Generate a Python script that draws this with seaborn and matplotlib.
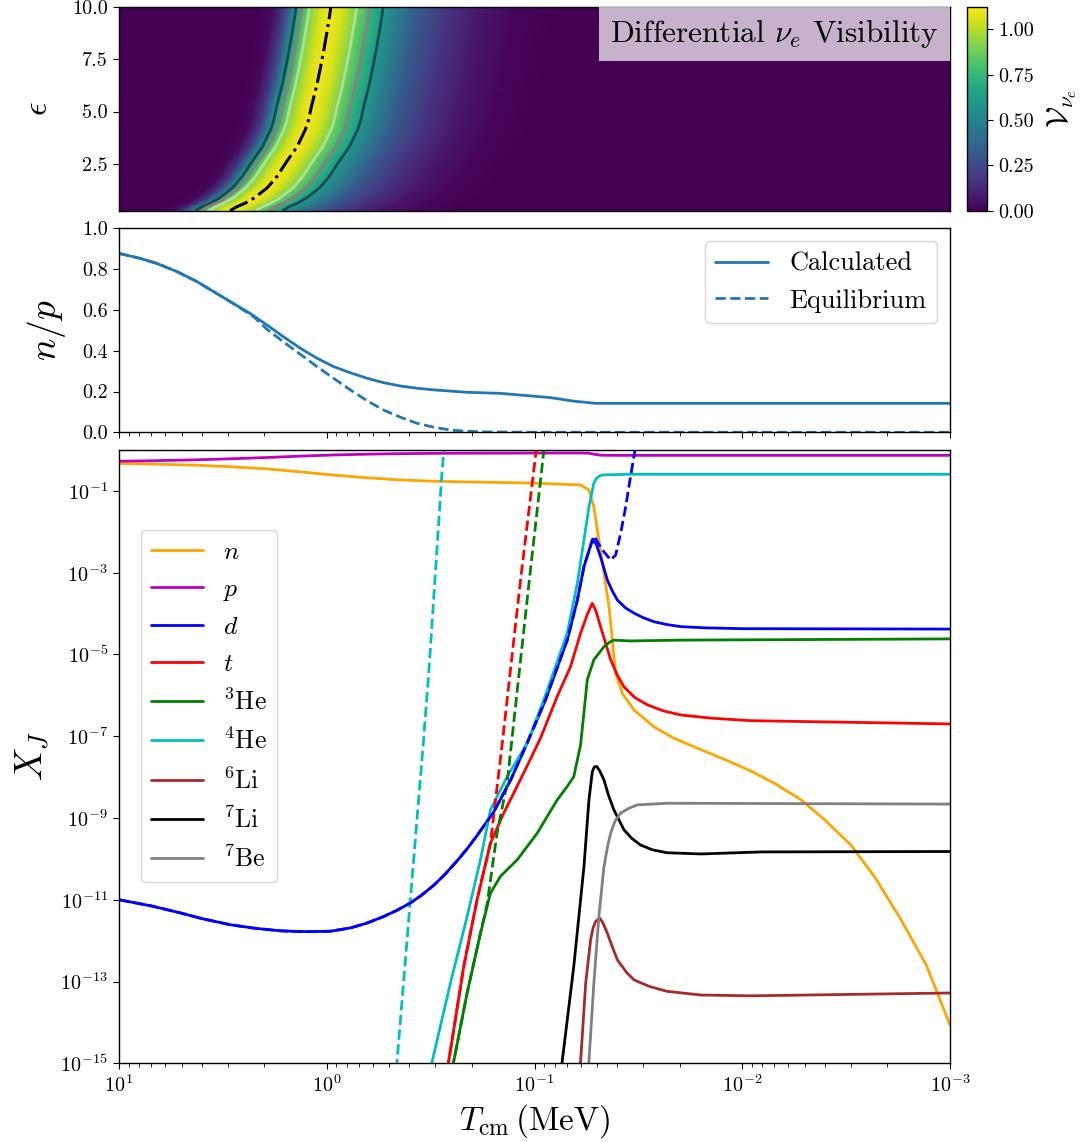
import numpy as np
import matplotlib
matplotlib.use("Agg")
import matplotlib.pyplot as plt
import seaborn as sns
from matplotlib.offsetbox import AnchoredText

# ---------------- differential nu_e visibility (top panel) ----------------
# peak of the visibility (dash-dot curve): epsilon vs temperature in MeV
vis_eps = [0.27, 0.46, 0.63, 0.86, 1.10, 1.35, 1.61, 1.89, 2.61, 3.32, 4.12, 4.52,
           5.32, 6.2, 7.14, 8.0, 8.73, 9.4, 10.0]
vis_peak_T = [2.92, 2.71, 2.47, 2.25, 2.09, 1.94, 1.84, 1.74, 1.56, 1.39, 1.27, 1.23,
              1.18, 1.12, 1.07, 1.03, 1.00, 0.975, 0.955]
# visibility profile across the band, offset in decades of T from the peak
vis_offset = [3.0, 0.35, 0.28, 0.22, 0.167, 0.138, 0.103, 0.05, 0.0, -0.06,
              -0.124, -0.186, -0.252, -0.40, -0.56, -0.72, -0.88, -1.1, -4.0]
vis_value = [0.0, 0.0, 0.03, 0.22, 0.60, 0.75, 0.90, 1.05, 1.11, 1.05,
             0.90, 0.75, 0.60, 0.34, 0.17, 0.07, 0.02, 0.0, 0.0]
vis_levels = [0.6, 0.75, 0.9]
vis_level_colors = ["#1a4b55", "#8a8079", "#a8e39a"]

# ---------------- n/p ratio (middle panel) ----------------
ratio_T = [10, 7.93, 6.58, 5.27, 4.22, 3.51, 2.92, 2.34, 1.94, 1.62, 1.34, 1.114,
           0.927, 0.771, 0.640, 0.532, 0.442, 0.367, 0.306, 0.211, 0.146, 0.0838,
           0.065, 0.0508, 0.001]
ratio_calc = [0.877, 0.853, 0.828, 0.788, 0.739, 0.69, 0.641, 0.583, 0.526, 0.469,
              0.412, 0.363, 0.322, 0.292, 0.265, 0.243, 0.227, 0.216, 0.208, 0.196,
              0.191, 0.170, 0.153, 0.142, 0.142]
ratio_eq_T = [10, 7.93, 6.58, 5.27, 4.22, 3.51, 2.92, 2.25, 1.94, 1.62, 1.34, 1.114,
              0.927, 0.771, 0.640, 0.532, 0.442, 0.367, 0.306, 0.254, 0.211, 0.175,
              0.1, 0.001]
ratio_eq = [0.877, 0.853, 0.828, 0.788, 0.739, 0.69, 0.641, 0.567, 0.505, 0.444,
            0.382, 0.322, 0.265, 0.208, 0.155, 0.109, 0.074, 0.044, 0.025, 0.011,
            0.005, 0.002, 0.0002, 0.0]

# ---------------- mass fractions (bottom panel), log10 X ----------------
n_T = [10, 7.93, 4.22, 2.92, 1.94, 1.34, 0.927, 0.64, 0.442, 0.306, 0.2, 0.146, 0.1,
       0.06, 0.0547, 0.0518, 0.049, 0.0463, 0.0438, 0.0422, 0.0407, 0.0378, 0.0332,
       0.0266, 0.0213, 0.0158, 0.012, 0.0091, 0.007, 0.0052, 0.004, 0.0030, 0.0023,
       0.00172, 0.0013, 0.001]
n_logX = [-0.331, -0.337, -0.372, -0.408, -0.462, -0.535, -0.613, -0.679, -0.733,
          -0.764, -0.783, -0.795, -0.81, -0.856, -0.978, -1.386, -2.20, -3.01, -3.83,
          -4.65, -5.46, -5.95, -6.36, -6.77, -7.05, -7.33, -7.58, -7.85, -8.15, -8.56,
          -9.05, -9.66, -10.45, -11.49, -12.6, -14.06]

p_T = [10, 7.93, 4.22, 2.92, 1.94, 1.34, 0.927, 0.64, 0.442, 0.306, 0.2, 0.06,
       0.0547, 0.052, 0.048, 0.04, 0.001]
p_logX = [-0.273, -0.268, -0.240, -0.215, -0.184, -0.150, -0.121, -0.102, -0.089,
          -0.082, -0.078, -0.073, -0.078, -0.102, -0.128, -0.131, -0.131]

d_T = [10, 7.0, 5.08, 4.0, 2.92, 2.2, 1.67, 1.4, 1.20, 0.96, 0.77, 0.64, 0.532, 0.46,
       0.396, 0.35, 0.306, 0.27, 0.236, 0.21, 0.189, 0.157, 0.1305, 0.1086, 0.0885,
       0.0696, 0.0622, 0.0578, 0.0527, 0.0505, 0.0481, 0.0446, 0.0422, 0.0399, 0.0365,
       0.0332, 0.030, 0.0266, 0.023, 0.0198, 0.015, 0.01, 0.001]
d_logX = [-11.0, -11.15, -11.32, -11.46, -11.61, -11.70, -11.76, -11.775, -11.78,
          -11.77, -11.69, -11.57, -11.41, -11.26, -11.08, -10.89, -10.65, -10.38,
          -10.05, -9.74, -9.43, -8.85, -8.08, -7.17, -6.11, -4.65, -3.67, -2.85,
          -2.20, -2.30, -2.61, -3.18, -3.45, -3.67, -3.86, -3.99, -4.10, -4.20, -4.27,
          -4.32, -4.35, -4.37, -4.38]

t_T = [0.27, 0.259, 0.219, 0.189, 0.163, 0.1406, 0.1127, 0.0936, 0.0778, 0.0671,
       0.060, 0.0555, 0.0527, 0.0505, 0.0481, 0.0430, 0.040, 0.0371, 0.033, 0.0287,
       0.024, 0.0198, 0.014, 0.0091, 0.001]
t_logX = [-15.5, -14.96, -12.63, -11.0, -9.62, -8.88, -7.90, -7.05, -6.03, -5.30,
          -4.48, -4.0, -3.75, -3.95, -4.32, -5.13, -5.50, -5.79, -6.05, -6.23, -6.38,
          -6.48, -6.56, -6.62, -6.70]

he3_T = [0.26, 0.245, 0.211, 0.182, 0.163, 0.146, 0.121, 0.097, 0.0778, 0.0696,
         0.0647, 0.060, 0.0557, 0.0518, 0.0463, 0.0435, 0.0415, 0.0345, 0.0198, 0.001]
he3_logX = [-15.5, -14.96, -13.28, -11.82, -10.84, -10.43, -10.02, -9.37, -8.56,
            -8.23, -7.99, -7.21, -5.62, -5.13, -4.81, -4.70, -4.65, -4.67, -4.65,
            -4.62]

he4_T = [0.33, 0.311, 0.254, 0.211, 0.182, 0.163, 0.1355, 0.1084, 0.0885, 0.0696,
         0.0622, 0.0578, 0.0547, 0.0518, 0.0505, 0.0485, 0.0472, 0.0345, 0.001]
he4_logX = [-15.5, -14.96, -13.04, -11.41, -10.02, -8.80, -7.99, -7.17, -6.0, -4.48,
            -3.26, -2.20, -1.39, -0.81, -0.70, -0.63, -0.61, -0.594, -0.594]

li6_T = [0.0615, 0.060, 0.0567, 0.0537, 0.0522, 0.0508, 0.0485, 0.047, 0.0446, 0.042,
         0.0399, 0.036, 0.0332, 0.028, 0.0230, 0.0158, 0.0091, 0.001]
li6_logX = [-15.5, -14.96, -13.04, -11.98, -11.68, -11.53, -11.45, -11.55, -11.82,
            -12.18, -12.47, -12.78, -12.96, -13.12, -13.24, -13.33, -13.35, -13.28]

li7_T = [0.076, 0.0736, 0.0647, 0.0578, 0.0547, 0.0527, 0.0515, 0.0502, 0.0485,
         0.0463, 0.044, 0.0415, 0.0371, 0.034, 0.0309, 0.027, 0.0230, 0.0158, 0.0081,
         0.001]
li7_logX = [-15.5, -14.96, -12.63, -10.19, -8.56, -7.87, -7.75, -7.74, -7.85, -8.07,
            -8.45, -8.80, -9.29, -9.50, -9.66, -9.78, -9.85, -9.88, -9.83, -9.82]

be7_T = [0.056, 0.0547, 0.0518, 0.0490, 0.0463, 0.0445, 0.0430, 0.041, 0.0385,
         0.035, 0.0320, 0.0230, 0.001]
be7_logX = [-15.5, -14.96, -13.04, -11.41, -10.19, -9.70, -9.37, -9.08, -8.88, -8.76,
            -8.68, -8.64, -8.66]

# equilibrium (NSE) curves, dashed
d_eq_T = [10, 7.0, 5.08, 4.0, 2.92, 2.2, 1.67, 1.4, 1.20, 0.96, 0.77, 0.64, 0.532,
          0.46, 0.396, 0.35, 0.306, 0.27, 0.236, 0.21, 0.189, 0.157, 0.1305, 0.1086,
          0.0885, 0.0696, 0.0622, 0.0578, 0.0518, 0.0472, 0.0430, 0.0407, 0.0385,
          0.0364, 0.0345, 0.0328, 0.0318]
d_eq_logX = [-11.0, -11.15, -11.32, -11.46, -11.61, -11.70, -11.76, -11.775, -11.78,
             -11.77, -11.69, -11.57, -11.41, -11.26, -11.08, -10.89, -10.65, -10.38,
             -10.05, -9.74, -9.43, -8.85, -8.08, -7.17, -6.11, -4.65, -3.67, -2.85,
             -2.10, -2.44, -2.69, -2.57, -2.04, -1.39, -0.65, 0.0, 0.4]
t_eq_T = [0.27, 0.259, 0.219, 0.189, 0.163, 0.1417, 0.1311, 0.1157, 0.1012, 0.0981,
          0.0972]
t_eq_logX = [-15.5, -14.96, -12.63, -11.0, -9.62, -7.01, -5.46, -3.01, -0.57, 0.0, 0.17]
he3_eq_T = [0.26, 0.245, 0.211, 0.182, 0.169, 0.1514, 0.1355, 0.128, 0.1186, 0.105,
            0.0927, 0.0902, 0.0893]
he3_eq_logX = [-15.5, -14.96, -13.28, -11.82, -11.1, -9.37, -8.15, -7.01, -5.46, -3.01,
               -0.57, 0.0, 0.2]
he4_eq_T = [0.47, 0.459, 0.397, 0.341, 0.323, 0.300, 0.279, 0.273, 0.271]
he4_eq_logX = [-15.5, -14.96, -11.08, -7.01, -5.46, -3.01, -0.57, 0.0, 0.2]

species = [
    (r"$n$", "orange", n_T, n_logX),
    (r"$p$", "m", p_T, p_logX),
    (r"$d$", "b", d_T, d_logX),
    (r"$t$", "r", t_T, t_logX),
    (r"$^3\mathrm{He}$", "g", he3_T, he3_logX),
    (r"$^4\mathrm{He}$", "c", he4_T, he4_logX),
    (r"$^6\mathrm{Li}$", "brown", li6_T, li6_logX),
    (r"$^7\mathrm{Li}$", "k", li7_T, li7_logX),
    (r"$^7\mathrm{Be}$", "gray", be7_T, be7_logX),
]
equilibrium = [
    ("c", he4_eq_T, he4_eq_logX),
    ("r", t_eq_T, t_eq_logX),
    ("g", he3_eq_T, he3_eq_logX),
    ("b", d_eq_T, d_eq_logX),
]

# ---------------- style ----------------
sns.set_style("ticks")
plt.rcParams.update({
    "font.family": ["cmr10", "DejaVu Serif"],
    "mathtext.fontset": "cm",
    "axes.formatter.use_mathtext": True,
    "axes.edgecolor": "black",
    "axes.labelcolor": "black",
    "text.color": "black",
    "xtick.color": "black",
    "ytick.color": "black",
    "axes.linewidth": 1.0,
    "xtick.major.size": 4.5,
    "ytick.major.size": 4.5,
    "xtick.minor.size": 3.0,
    "ytick.minor.size": 3.0,
    "xtick.labelsize": 14.5,
    "ytick.labelsize": 14.5,
})

W, H = 1088, 1142
fig = plt.figure(figsize=(W / 100, H / 100), dpi=100)


def box(left, top, right, bottom):
    return [left / W, 1 - bottom / H, (right - left) / W, (bottom - top) / H]


ax_vis = fig.add_axes(box(119, 6.7, 950, 210.7))
cax = fig.add_axes(box(966.7, 6.7, 987.3, 210.7))
ax_np = fig.add_axes(box(119, 228.3, 950, 432.3))
ax_x = fig.add_axes(box(119, 450, 950, 1063.3))

for ax in (ax_vis, ax_np, ax_x):
    ax.set_xscale("log")
    ax.set_xlim(10, 1e-3)

# ---- top: visibility map ----
peak = np.log10(vis_peak_T)[:, None]
T_grid = 10 ** (peak + np.array(vis_offset)[None, :])
eps_grid = np.repeat(np.array(vis_eps)[:, None], len(vis_offset), axis=1)
vis_grid = np.tile(vis_value, (len(vis_eps), 1))

mesh = ax_vis.pcolormesh(T_grid, eps_grid, vis_grid, shading="gouraud",
                         cmap="viridis", vmin=0, vmax=1.125, rasterized=True)
ax_vis.contour(T_grid, eps_grid, vis_grid, levels=vis_levels,
               colors=vis_level_colors, linewidths=2)
ax_vis.plot(vis_peak_T, vis_eps, color="k", ls="-.", lw=2.2)
ax_vis.set_ylim(0.27, 10)
ax_vis.set_yticks([2.5, 5.0, 7.5, 10.0])
ax_vis.yaxis.set_major_formatter("{x:.1f}")
ax_vis.tick_params(axis="x", which="both", bottom=False, labelbottom=False)
ax_vis.set_ylabel(r"$\epsilon$", fontsize=24, labelpad=14)

at = AnchoredText(r"Differential $\nu_e$ Visibility", loc="upper right",
                  prop=dict(size=22.5), frameon=True, borderpad=0, pad=0.36)
at.patch.set_boxstyle("square,pad=0")
at.patch.set_facecolor("white")
at.patch.set_alpha(0.7)
at.patch.set_edgecolor("none")
ax_vis.add_artist(at)

cb = fig.colorbar(mesh, cax=cax, ticks=[0, 0.25, 0.5, 0.75, 1.0])
cb.ax.yaxis.set_major_formatter("{x:.2f}")
cb.outline.set_linewidth(1.0)
cb.set_label(r"$\mathcal{V}_{\nu_e}$", fontsize=22, labelpad=8)

# ---- middle: n/p ----
sns.lineplot(x=ratio_eq_T, y=ratio_eq, ax=ax_np, color="C0", lw=2, ls="--",
             label="Equilibrium", sort=False)
sns.lineplot(x=ratio_T, y=ratio_calc, ax=ax_np, color="C0", lw=2,
             label="Calculated", sort=False)
ax_np.set_ylim(0, 1)
ax_np.set_yticks([0, 0.2, 0.4, 0.6, 0.8, 1.0])
ax_np.yaxis.set_major_formatter("{x:.1f}")
ax_np.tick_params(axis="x", which="both", labelbottom=False)
ax_np.set_ylabel(r"$n/p$", fontsize=27, labelpad=10)
h, l = ax_np.get_legend_handles_labels()
ax_np.legend(h[::-1], l[::-1], loc="upper right", fontsize=19, frameon=True,
             fancybox=True, edgecolor="0.8", framealpha=0.8)

# ---- bottom: mass fractions ----
ax_x.set_yscale("log")
for label, color, T, logX in species:
    sns.lineplot(x=T, y=10 ** np.array(logX), ax=ax_x, color=color, lw=2,
                 label=label, sort=False)
for color, T, logX in equilibrium:
    sns.lineplot(x=T, y=10 ** np.array(logX), ax=ax_x, color=color, lw=2,
                 ls="--", sort=False, legend=False)
ax_x.set_ylim(1e-15, 1)
ax_x.set_yticks([10.0 ** k for k in range(-15, 0, 2)])
ax_x.set_xlim(10, 1e-3)
ax_x.set_ylabel(r"$X_J$", fontsize=27, labelpad=6)
ax_x.set_xlabel(r"$T_{\mathrm{cm}}\,(\mathrm{MeV})$", fontsize=24, labelpad=4)
h, l = ax_x.get_legend_handles_labels()
ax_x.legend(h, l, loc="upper left", bbox_to_anchor=(0.0265, 0.8696),
            borderaxespad=0, fontsize=18.5, frameon=True, fancybox=True,
            edgecolor="0.8", framealpha=0.8)

fig.savefig("out.png", dpi=100)
